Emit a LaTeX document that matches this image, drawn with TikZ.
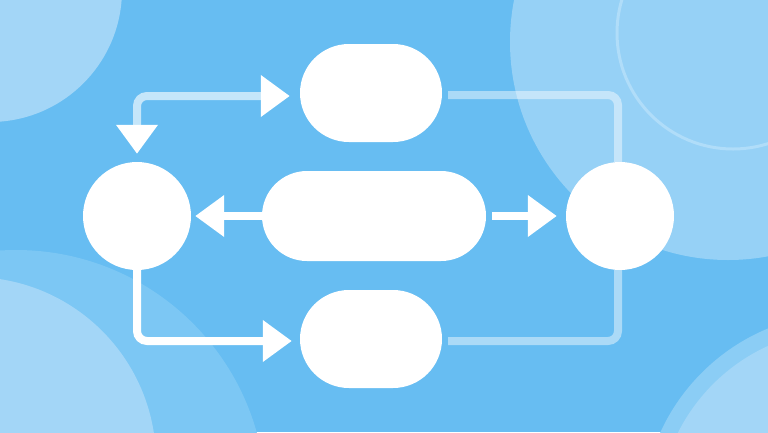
\documentclass[tikz,border=0pt]{standalone}
\usetikzlibrary{arrows.meta}
\definecolor{bgblue}{RGB}{103,189,242}
\definecolor{paleblue}{RGB}{163,214,247}
\definecolor{softblue}{RGB}{150,209,246}
\definecolor{mistblue}{RGB}{124,199,244}
\definecolor{haloblue}{RGB}{139,205,245}
\definecolor{ringblue}{RGB}{176,221,249}
\tikzset{bubble/.style = {circle, fill=white, minimum size=108pt, inner sep=0}}
\tikzset{pill/.style = {fill=white, inner sep=0}}
\tikzset{link/.style = {draw=white, line width=8pt}}
\tikzset{faint/.style = {link, draw opacity=0.45}}
\tikzset{arrowtip/.style = {-{Triangle[length=29pt, width=40pt]}}}

\begin{document}
\begin{tikzpicture}[x=1pt, y=-1pt]
    \clip (0, 0) rectangle (768, 432);
    \fill [bgblue] (0, 0) rectangle (768, 432);

    % backdrop
    \fill [paleblue] (-10, -10) circle (132pt);
    \fill [softblue] (728, 42) circle (218pt);
    \draw [ringblue, line width=3pt] (733, 33) circle (116pt);
    \fill [mistblue] (16, 500) circle (250pt);
    \fill [paleblue] (-28, 461) circle (184pt);
    \fill [haloblue] (846, 517) circle (204pt);
    \fill [paleblue] (846, 517) circle (188pt);

    % nodes
    \node [bubble] (left) at (137, 216) {};
    \node [bubble] (right) at (620, 216) {};
    \node [pill, rounded corners=49pt, minimum width=142pt, minimum height=98pt] (top) at (371, 93) {};
    \node [pill, rounded corners=45pt, minimum width=224pt, minimum height=90pt] (mid) at (374, 216) {};
    \node [pill, rounded corners=49pt, minimum width=142pt, minimum height=98pt] (bottom) at (371, 339) {};

    % connectors
    \draw [link, draw=white!62!bgblue, rounded corners=10pt,
           {Triangle[length=29pt, width=40pt, color=white]}-{Triangle[length=29pt, width=40pt, color=white]}]
        ([yshift=8pt]left.north) |- ([xshift=-10pt, yshift=-3pt]top.west);
    \draw [link, arrowtip, rounded corners=10pt] (left.south) |- ([xshift=-8pt, yshift=-2pt]bottom.west);
    \draw [faint, rounded corners=10pt] ([xshift=6pt, yshift=-2pt]top.east) -| ([xshift=-2pt]right.north);
    \draw [faint, rounded corners=10pt] ([xshift=-2pt]right.south) |- ([xshift=6pt, yshift=-2pt]bottom.east);
    \draw [link, arrowtip] (mid.west) -- ([xshift=4pt]left.east);
    \draw [link, arrowtip] ([xshift=6pt]mid.east) -- ([xshift=-9pt]right.west);
\end{tikzpicture}
\end{document}
